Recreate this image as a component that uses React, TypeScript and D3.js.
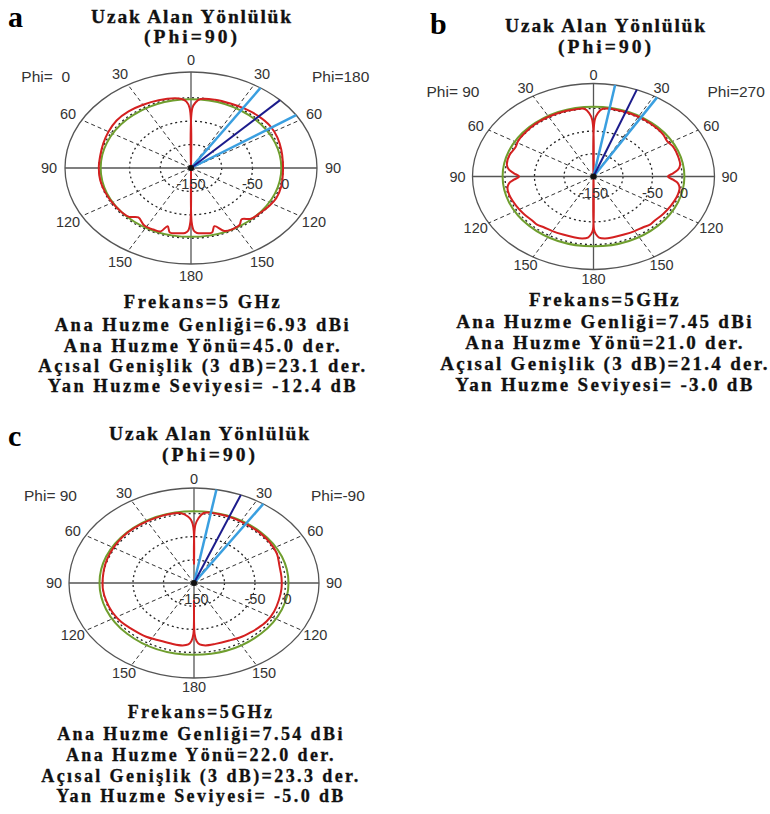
import React from 'react';
import * as d3 from 'd3';

// ---------- data ----------
const panelLetters = ['a', 'b', 'c'];
const titleLine1 = 'Uzak Alan Yönlülük';
const titleLine2 = '(Phi=90)';
const angleTicks = [0, 30, 60, 90, 120, 150, 180, 210, 240, 270, 300, 330];
const angleTickLabels = ['0', '30', '60', '90', '120', '150', '180', '150', '120', '90', '60', '30'];
const gridLevels = [-100, -50, 0];
const radialLabelValues = [-150, -50, 0];
const phiLeft = [0, 90, 90];
const phiRight = [180, 270, -90];
const frequencyLabels = ['5 GHz', '5GHz', '5GHz'];
const mainGain = [6.93, 7.45, 7.54];
const mainDirection = [45.0, 21.0, 22.0];
const beamWidth3dB = [23.1, 21.4, 23.3];
const sideLobeLevel = [-12.4, -3.0, -5.0];
const greenLevel = [-3, 4, 5];

const patternAnglesA = [0, 1, 3, 6, 15, 25, 35, 45, 55, 65, 75, 85, 95, 105, 115, 122, 130, 138, 143, 147, 153, 158, 163, 166, 171, 176, 178, 179.5, 180,
  180.5, 182, 184, 189, 194, 197, 200, 205, 212, 219, 224, 230, 240, 250, 260, 270, 280, 290, 300, 310, 320, 330, 340, 350, 354, 357, 359, 360];
const patternDbA = [-150, -22, -10, -2, 1, 2, 4, 6, 7, 5, 2, 0, 0, 2, 3, 1, -2, -4, -13, -5, -3, -5, -20, -8, -9, -11, -16, -35, -150,
  -35, -16, -11, -9, -8, -20, -6, -5, -6, -14, -5, -3, -2, -1, 0, 0, 0, 2, 5, 8, 8, 6, 4, 1, -2, -8, -22, -150];

const patternAnglesB = [0, 1, 3, 6, 15, 25, 35, 45, 52, 58, 64, 72, 80, 84, 87, 90, 93, 96, 100, 108, 116, 125, 133, 138, 143, 150, 158, 166, 172, 176, 178, 179.5, 180,
  180.5, 182, 184, 188, 194, 202, 210, 217, 222, 227, 235, 244, 252, 260, 264, 267, 270, 273, 276, 280, 288, 296, 302, 310, 320, 330, 340, 348, 354, 357, 359, 360];
const patternDbB = [-150, -25, -10, 0, 2, 2, 2, 1, 0, -3, 0, 0, -1, -6, -15, -24, -15, -6, -2, -2, -4, -6, -8, -7, -10, -11, -12, -12, -12, -15, -22, -32, -150,
  -32, -22, -15, -12, -12, -12, -11, -10, -7, -8, -6, -4, -2, -2, -6, -15, -24, -15, -6, -1, 0, -3, 0, 1, 2, 2, 2, 1, 0, -10, -25, -150];

const patternAnglesC = [0, 1, 3, 6, 15, 25, 35, 45, 55, 65, 75, 85, 95, 105, 115, 125, 133, 140, 146, 155, 165, 172, 176, 178, 179.5, 180,
  180.5, 182, 184, 188, 196, 206, 214, 220, 227, 235, 245, 255, 265, 275, 285, 295, 305, 315, 325, 335, 345, 352, 356, 358, 359.5, 360];
const patternDbC = [-110, -25, -10, 2, 4, 4, 3, 3, 2, 0, -5, -6, -6, -6, -5, -5, -7, -9, -10, -13, -14, -14, -17, -24, -40, -112,
  -40, -24, -17, -14, -14, -13, -10, -9, -7, -4, -2, -1, 0, 0, 1, 2, 3, 4, 4, 4, 4, 2, -6, -14, -30, -110];

const patternAngles = [patternAnglesA, patternAnglesB, patternAnglesC];
const patternDb = [patternDbA, patternDbB, patternDbC];

// ---------- layout ----------
const W = 770;
const H = 814;
const layouts = [
  { cx: 191, cy: 168, rx: 126, ry: 96, lx: 16, ly: 12, phiDx: 121, phiDy: -86, letterX: 8, letterY: 27, titleX: 192, titleY: [23, 43], textX: 203, textY: [308, 331, 352, 372, 392], textSize: 18.5, textLs: 2.5 },
  { cx: 593.5, cy: 176.5, rx: 121, ry: 93, lx: 15, ly: 9, phiDx: 114, phiDy: -80, letterX: 430, letterY: 34, titleX: 606, titleY: [32, 53], textX: 605, textY: [306, 328, 349, 370, 391], textSize: 19, textLs: 2.3 },
  { cx: 194, cy: 583, rx: 125, ry: 95, lx: 15, ly: 9, phiDx: 117, phiDy: -82, letterX: 8, letterY: 446, titleX: 210, titleY: [440, 461], textX: 201, textY: [718, 740, 761, 782, 802], textSize: 18, textLs: 2.4 },
];

const rScale = d3.scaleLinear().domain([-150, 55]).range([0, 1]).clamp(true);
const sansFont = '"Liberation Sans", Arial, sans-serif';
const serifFont = '"Liberation Serif", "Times New Roman", serif';

function Panel({ i }: { i: number }) {
  const L = layouts[i];
  const pt = (deg: number, r: number): [number, number] => {
    const a = (deg * Math.PI) / 180;
    return [L.cx + r * L.rx * Math.sin(a), L.cy - r * L.ry * Math.cos(a)];
  };
  const angles = patternAngles[i];
  const values = patternDb[i];
  const pts = angles.map((a, k) => pt(a, rScale(values[k])));
  const line = d3.line().curve(d3.curveCatmullRom.alpha(0.5));
  const redPath = line(pts as [number, number][]) || '';

  const dir = mainDirection[i];
  const half = beamWidth3dB[i] / 2;
  const [bx, by] = pt(dir, 1);
  const [l1x, l1y] = pt(dir - half, 1);
  const [l2x, l2y] = pt(dir + half, 1);
  const gr = rScale(greenLevel[i]);

  const textLines = [
    `Frekans=${frequencyLabels[i]}`,
    `Ana Huzme Genliği=${mainGain[i].toFixed(2)} dBi`,
    `Ana Huzme Yönü=${mainDirection[i].toFixed(1)} der.`,
    `Açısal Genişlik (3 dB)=${beamWidth3dB[i].toFixed(1)} der.`,
    `Yan Huzme Seviyesi= ${sideLobeLevel[i].toFixed(1)} dB`,
  ];
  const fmtPhi = (v: number) => 'Phi=' + String(v).padStart(3, ' ');

  return (
    <g>
      {/* panel letter & title */}
      <text x={L.letterX} y={L.letterY} fontFamily={serifFont} fontWeight="bold" fontSize={30} fill="#000">{panelLetters[i]}</text>
      <text x={L.titleX} y={L.titleY[0]} textAnchor="middle" fontFamily={serifFont} fontWeight="bold" fontSize={19.5} letterSpacing={1.8} fill="#111" stroke="#111" strokeWidth={0.3}>{titleLine1}</text>
      <text x={L.titleX} y={L.titleY[1]} textAnchor="middle" fontFamily={serifFont} fontWeight="bold" fontSize={19.5} letterSpacing={3} fill="#111" stroke="#111" strokeWidth={0.3}>{titleLine2}</text>

      {/* outer ellipse */}
      <ellipse cx={L.cx} cy={L.cy} rx={L.rx} ry={L.ry} fill="none" stroke="#555" strokeWidth={1.3} />
      {/* dotted grid ellipses */}
      {gridLevels.map((g) => (
        <ellipse key={g} cx={L.cx} cy={L.cy} rx={rScale(g) * L.rx} ry={rScale(g) * L.ry} fill="none" stroke="#222" strokeWidth={1.3} strokeDasharray="2 3" />
      ))}
      {/* radial lines */}
      {angleTicks.map((a) => {
        const [x, y] = pt(a, 1);
        const solid = a % 90 === 0;
        return (
          <line key={a} x1={L.cx} y1={L.cy} x2={x} y2={y} stroke={solid ? '#555' : '#333'} strokeWidth={solid ? 1.3 : 1} strokeDasharray={solid ? undefined : '4 3'} />
        );
      })}
      {/* green reference circle */}
      <ellipse cx={L.cx} cy={L.cy} rx={gr * L.rx} ry={gr * L.ry} fill="none" stroke="#6f9e2e" strokeWidth={2} />
      {/* red pattern */}
      <path d={redPath} fill="none" stroke="#d42020" strokeWidth={2} strokeLinejoin="round" />
      {/* beam lines */}
      <line x1={L.cx} y1={L.cy} x2={l1x} y2={l1y} stroke="#3a9fe0" strokeWidth={2.5} />
      <line x1={L.cx} y1={L.cy} x2={l2x} y2={l2y} stroke="#3a9fe0" strokeWidth={2.5} />
      <line x1={L.cx} y1={L.cy} x2={bx} y2={by} stroke="#1c1c8c" strokeWidth={2} />
      <circle cx={L.cx} cy={L.cy} r={3} fill="#111" />

      {/* angle labels */}
      {angleTicks.map((a, k) => {
        const rad = (a * Math.PI) / 180;
        const x = L.cx + (L.rx + L.lx) * Math.sin(rad);
        const y = L.cy - (L.ry + L.ly) * Math.cos(rad);
        return (
          <text key={a} x={x} y={y} textAnchor="middle" dominantBaseline="central" fontFamily={sansFont} fontSize={14.5} fill="#333">{angleTickLabels[k]}</text>
        );
      })}
      {/* radial labels */}
      {radialLabelValues.map((v) => (
        <text key={v} x={L.cx + rScale(v) * L.rx + (v === 0 ? 2 : 0)} y={L.cy + 16} textAnchor="middle" dominantBaseline="central" fontFamily={sansFont} fontSize={14.5} fill="#333">{v}</text>
      ))}
      {/* phi labels */}
      <text x={L.cx - L.phiDx} y={L.cy + L.phiDy} textAnchor="end" fontFamily={sansFont} fontSize={15.5} fill="#333" style={{ whiteSpace: 'pre' }}>{fmtPhi(phiLeft[i])}</text>
      <text x={L.cx + L.phiDx} y={L.cy + L.phiDy} textAnchor="start" fontFamily={sansFont} fontSize={15.5} fill="#333" style={{ whiteSpace: 'pre' }}>{fmtPhi(phiRight[i])}</text>

      {/* result text */}
      {textLines.map((t, k) => (
        <text key={k} x={L.textX} y={L.textY[k]} textAnchor="middle" fontFamily={serifFont} fontWeight="bold" fontSize={L.textSize} letterSpacing={L.textLs} fill="#111" stroke="#111" strokeWidth={0.3}>{t}</text>
      ))}
    </g>
  );
}

export default function App() {
  return (
    <svg width={W} height={H} viewBox={`0 0 ${W} ${H}`} style={{ position: 'absolute', left: 0, top: 0, background: '#fff' }}>
      <rect x={0} y={0} width={W} height={H} fill="#fff" />
      {[0, 1, 2].map((i) => <Panel key={i} i={i} />)}
    </svg>
  );
}
